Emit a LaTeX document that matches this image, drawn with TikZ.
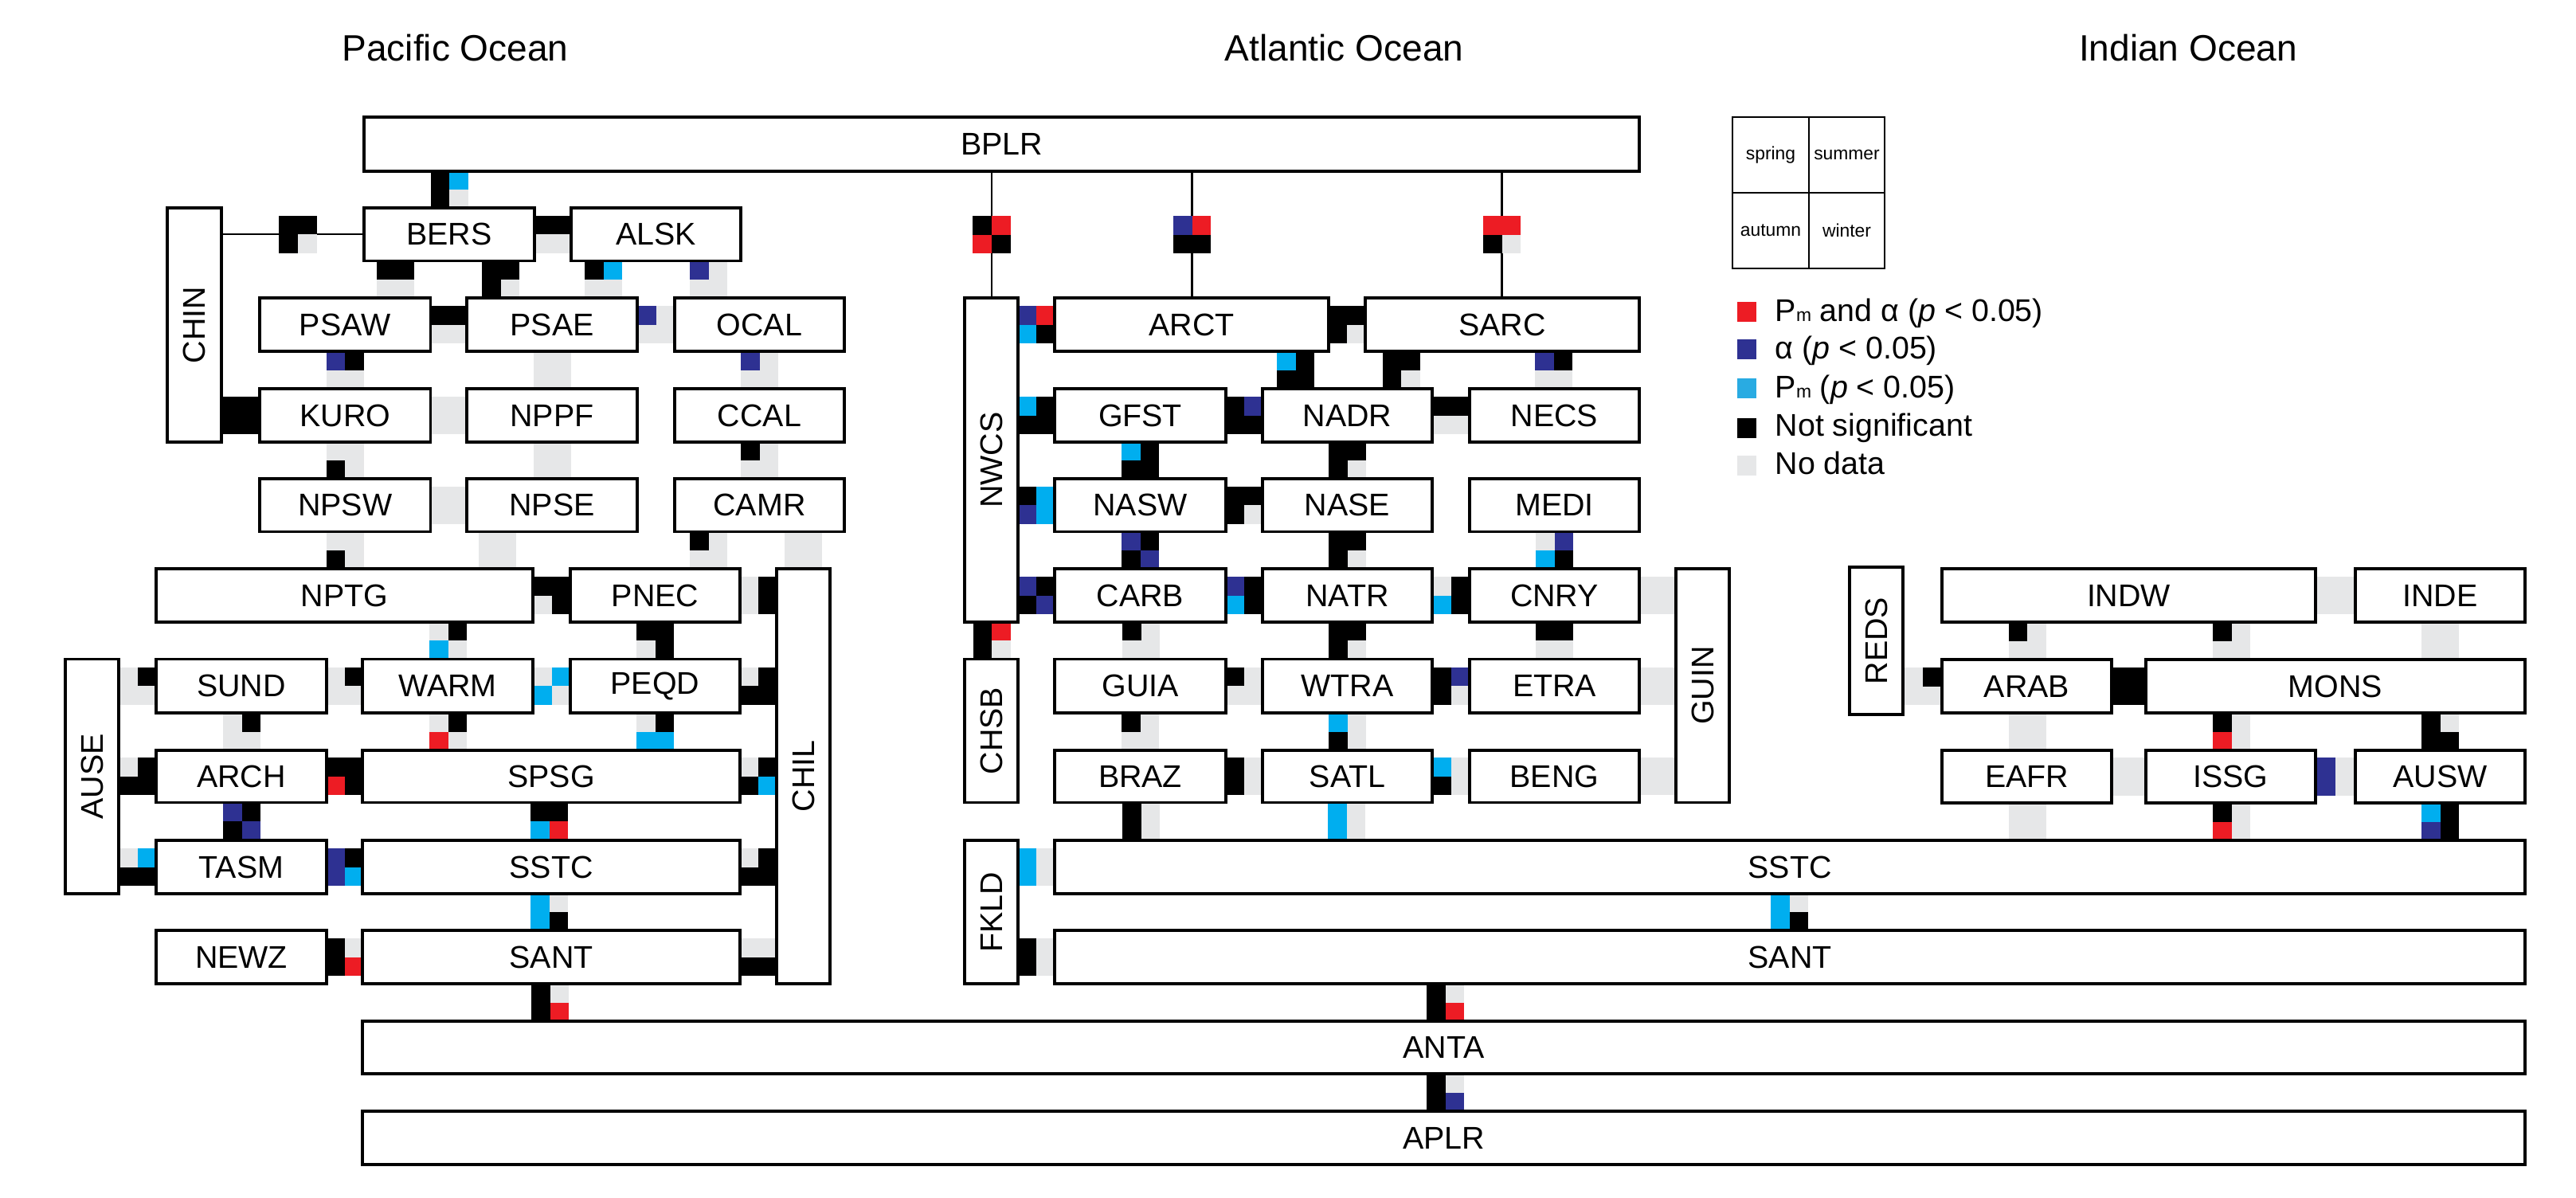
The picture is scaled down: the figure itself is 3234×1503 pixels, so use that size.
\documentclass[tikz,border=0pt]{standalone}
\usepackage{fontspec}
\usepackage{graphicx}
\setmainfont{Liberation Sans}
\usetikzlibrary{calc}
\definecolor{cK}{HTML}{000000}
\definecolor{cG}{HTML}{E6E7E8}
\definecolor{cR}{HTML}{ED1C24}
\definecolor{cN}{HTML}{2E3192}
\definecolor{cC}{HTML}{00AEEF}
\definecolor{cLC}{HTML}{29ABE2}
\def\hw{6.69pt}
\def\hh{6.69pt}
\tikzset{
  box/.style={draw, fill=white, line width=1pt, inner sep=0pt, font=\fontsize{11.2}{13}\selectfont},
  lgbox/.style={draw, fill=white, line width=0.7pt, inner sep=0pt, font=\fontsize{6.5}{8}\selectfont},
  thinline/.style={line width=0.6pt},
  oceantitle/.style={font=\fontsize{13.1}{15}\selectfont, anchor=base, inner sep=0pt},
  legtext/.style={font=\fontsize{11.2}{13}\selectfont, anchor=base west, inner sep=0pt},
  legsq/.style={minimum size=0.24cm, inner sep=0pt}
}
% box: name, x1, y1, x2, y2, label
\newcommand\bx[7][box]{%
  \pgfmathsetlengthmacro\bw{((#5)-(#3))*0.01cm}%
  \pgfmathsetlengthmacro\bh{((#6)-(#4))*0.01cm}%
  \node[#1, minimum width=\bw, minimum height=\bh] (#2) at ({((#3)+(#5))/2},{((#4)+(#6))/2}) {#7};}
\newcommand\qfill[4]{%
  \fill[c#1] (q1) rectangle (q2);
  \fill[c#2] (q2) rectangle (q3 |- q1);
  \fill[c#3] (q1 |- q3) rectangle (q2);
  \fill[c#4] (q2) rectangle (q3);}
% vertical connector: upper node, lower node, left x, spring, summer, autumn, winter
\newcommand\vcon[7]{%
  \path let \p1=(#1.south), \p2=(#2.north), \p3=(#3,0) in
    coordinate (q1) at (\x3,\y1)
    coordinate (q2) at ({\x3+\hw},{(\y1+\y2)/2})
    coordinate (q3) at ({\x3+2*\hw},\y2);
  \qfill{#4}{#5}{#6}{#7}}
% horizontal connector: row node, left node, right node, colours
\newcommand\hcon[7]{%
  \path let \p1=(#2.east), \p2=(#3.west), \p3=(#1.center) in
    coordinate (q1) at (\x1,{\y3+\hh})
    coordinate (q2) at ({(\x1+\x2)/2},\y3)
    coordinate (q3) at (\x2,{\y3-\hh});
  \qfill{#4}{#5}{#6}{#7}}
% lined vertical connector: upper, lower, centre x, colours
\newcommand\lvcon[7]{%
  \path let \p1=(#1.south), \p2=(#2.north), \p3=(#3,0) in
    coordinate (q1) at ({\x3-\hw},{(\y1+\y2)/2+\hh})
    coordinate (q2) at (\x3,{(\y1+\y2)/2})
    coordinate (q3) at ({\x3+\hw},{(\y1+\y2)/2-\hh});
  \draw[thinline] (#1.south -| q2) -- (#2.north -| q2);
  \qfill{#4}{#5}{#6}{#7}}
% lined horizontal connector: left, right, centre x, colours
\newcommand\lhcon[7]{%
  \path let \p2=(#2.center), \p3=(#3,0) in
    coordinate (q1) at ({\x3-\hw},{\y2+\hh})
    coordinate (q2) at (\x3,\y2)
    coordinate (q3) at ({\x3+\hw},{\y2-\hh});
  \draw[thinline] (#1.east |- q2) -- (#2.west |- q2);
  \qfill{#4}{#5}{#6}{#7}}
\begin{document}
\begin{tikzpicture}[x=0.01cm,y=-0.01cm]
\useasboundingbox (0,0) rectangle (3234,1503);
% titles
\node[oceantitle] (tP) at (571.5,77) {Pacific Ocean};
\node[oceantitle] (tA) at (1687.5,77) {Atlantic Ocean};
\node[oceantitle] (tI) at (2747,77) {Indian Ocean};
% boxes
\bx{BPLR}{457}{147}{2058}{215}{BPLR}
\bx{BERS}{457}{261}{671}{327.5}{BERS}
\bx{ALSK}{717}{261}{930}{327.5}{ALSK}
\bx{CHIN}{210}{261}{278}{555}{\rotatebox{90}{CHIN}}
\bx{PSAW}{326}{374}{540.5}{441}{PSAW}
\bx{PSAE}{586}{374}{800}{441}{PSAE}
\bx{OCAL}{847}{374}{1060}{441}{OCAL}
\bx{KURO}{326}{488}{540.5}{555}{KURO}
\bx{NPPF}{586}{488}{800}{555}{NPPF}
\bx{CCAL}{847}{488}{1060}{555}{CCAL}
\bx{NPSW}{326}{601}{540.5}{667.5}{NPSW}
\bx{NPSE}{586}{601}{800}{667.5}{NPSE}
\bx{CAMR}{847}{601}{1060}{667.5}{CAMR}
\bx{NPTG}{196}{714}{669}{781}{NPTG}
\bx{PNEC}{716}{714}{929}{781}{PNEC}
\bx{CHIL}{975}{714}{1042}{1235}{\rotatebox{90}{CHIL}}
\bx{AUSE}{82}{827.5}{149}{1122}{\rotatebox{90}{AUSE}}
\bx{SUND}{196}{827.5}{410}{895}{SUND}
\bx{WARM}{455}{827.5}{669}{895}{WARM}
\bx{PEQD}{716}{827.5}{929}{895}{PEQD}
\bx{ARCH}{196}{942}{410}{1007.5}{ARCH}
\bx{SPSG}{455}{942}{929}{1007.5}{SPSG}
\bx{TASM}{196}{1055}{410}{1122}{TASM}
\bx{SSTCp}{455}{1055}{929}{1122}{SSTC}
\bx{NEWZ}{196}{1168}{410}{1235}{NEWZ}
\bx{SANTp}{455}{1168}{929}{1235}{SANT}
\bx{ANTA}{455}{1282}{3170}{1348}{ANTA}
\bx{APLR}{455}{1395}{3170}{1462}{APLR}
% Atlantic
\bx{NWCS}{1211}{374}{1278}{781}{\rotatebox{90}{NWCS}}
\bx{ARCT}{1324}{374}{1668}{441}{ARCT}
\bx{SARC}{1714}{374}{2058}{441}{SARC}
\bx{GFST}{1324}{488}{1539}{555}{GFST}
\bx{NADR}{1585}{488}{1798}{555}{NADR}
\bx{NECS}{1845}{488}{2058}{555}{NECS}
\bx{NASW}{1324}{601}{1539}{667.5}{NASW}
\bx{NASE}{1585}{601}{1798}{667.5}{NASE}
\bx{MEDI}{1845}{601}{2058}{667.5}{MEDI}
\bx{CARB}{1324}{714}{1539}{781}{CARB}
\bx{NATR}{1585}{714}{1798}{781}{NATR}
\bx{CNRY}{1845}{714}{2058}{781}{CNRY}
\bx{GUIN}{2104}{714}{2171}{1007.5}{\rotatebox{90}{GUIN}}
\bx{CHSB}{1211}{827.5}{1278}{1007.5}{\rotatebox{90}{CHSB}}
\bx{GUIA}{1324}{827.5}{1539}{895}{GUIA}
\bx{WTRA}{1585}{827.5}{1798}{895}{WTRA}
\bx{ETRA}{1845}{827.5}{2058}{895}{ETRA}
\bx{BRAZ}{1324}{942}{1539}{1007.5}{BRAZ}
\bx{SATL}{1585}{942}{1798}{1007.5}{SATL}
\bx{BENG}{1845}{942}{2058}{1007.5}{BENG}
\bx{FKLD}{1211}{1055}{1278}{1235}{\rotatebox{90}{FKLD}}
\bx{SSTCa}{1324}{1055}{3170}{1122}{SSTC}
\bx{SANTa}{1324}{1168}{3170}{1235}{SANT}
% Indian
\bx{REDS}{2322}{712}{2389}{897}{\rotatebox{90}{REDS}}
\bx{INDW}{2438}{714}{2907}{781}{INDW}
\bx{INDE}{2957}{714}{3170}{781}{INDE}
\bx{ARAB}{2438}{828}{2651}{895}{ARAB}
\bx{MONS}{2694}{828}{3170}{895}{MONS}
\bx{EAFR}{2438}{942}{2651}{1008}{EAFR}
\bx{ISSG}{2694}{942}{2907}{1008}{ISSG}
\bx{AUSW}{2957}{942}{3170}{1008}{AUSW}
% legend
\bx[lgbox]{lgSp}{2175}{147}{2271}{242}{spring}
\bx[lgbox]{lgSu}{2271}{147}{2366}{242}{summer}
\bx[lgbox]{lgAu}{2175}{242}{2271}{337}{autumn}
\bx[lgbox]{lgWi}{2271}{242}{2366}{337}{winter}
\node[legsq, fill=cR] (lsR) at (2193,391.5) {};
\node[legsq, fill=cN] (lsN) at (2193,438.5) {};
\node[legsq, fill=cLC] (lsC) at (2193,487.5) {};
\node[legsq, fill=cK] (lsK) at (2193,537.5) {};
\node[legsq, fill=cG] (lsG) at (2193,584.5) {};
\node[legtext] (ltR) at (2228,403) {P{\fontsize{6.5}{7}\selectfont m} and α (\textit{p} < 0.05)};
\node[legtext] (ltN) at (2228,450) {α (\textit{p} < 0.05)};
\node[legtext] (ltC) at (2228,499) {P{\fontsize{6.5}{7}\selectfont m} (\textit{p} < 0.05)};
\node[legtext] (ltK) at (2228,547) {Not significant};
\node[legtext] (ltG) at (2228,595) {No data};
% ---- Pacific vertical connectors
\vcon{BPLR}{BERS}{540.5}{K}{C}{K}{G}
\vcon{BERS}{PSAW}{473}{K}{K}{G}{G}
\vcon{BERS}{PSAE}{605}{K}{K}{K}{G}
\vcon{ALSK}{PSAE}{734}{K}{C}{G}{G}
\vcon{ALSK}{OCAL}{866}{N}{G}{G}{G}
\vcon{PSAW}{KURO}{409.6}{N}{K}{G}{G}
\vcon{PSAE}{NPPF}{670}{G}{G}{G}{G}
\vcon{OCAL}{CCAL}{930}{N}{G}{G}{G}
\vcon{KURO}{NPSW}{409.6}{G}{G}{K}{G}
\vcon{NPPF}{NPSE}{670}{G}{G}{G}{G}
\vcon{CCAL}{CAMR}{930}{K}{G}{G}{G}
\vcon{NPSW}{NPTG}{409.6}{G}{G}{K}{G}
\vcon{NPSE}{NPTG}{601}{G}{G}{G}{G}
\vcon{CAMR}{PNEC}{866}{K}{G}{G}{G}
\vcon{CAMR}{CHIL}{985}{G}{G}{G}{G}
\vcon{NPTG}{WARM}{539}{G}{K}{C}{G}
\vcon{PNEC}{PEQD}{799}{K}{K}{G}{K}
\vcon{SUND}{ARCH}{280}{G}{K}{G}{G}
\vcon{WARM}{SPSG}{539}{G}{K}{R}{G}
\vcon{PEQD}{SPSG}{799}{G}{K}{C}{C}
\vcon{ARCH}{TASM}{280}{N}{K}{K}{N}
\vcon{SPSG}{SSTCp}{666}{K}{K}{C}{R}
\vcon{SSTCp}{SANTp}{666}{C}{G}{C}{K}
\vcon{SANTp}{ANTA}{667}{K}{G}{K}{R}
% ---- Pacific horizontal connectors
\lhcon{CHIN}{BERS}{374}{K}{K}{K}{G}
\hcon{BERS}{BERS}{ALSK}{K}{K}{G}{G}
\hcon{PSAW}{PSAW}{PSAE}{K}{K}{G}{G}
\hcon{PSAE}{PSAE}{OCAL}{N}{G}{G}{G}
\hcon{KURO}{CHIN}{KURO}{K}{K}{K}{K}
\hcon{KURO}{KURO}{NPPF}{G}{G}{G}{G}
\hcon{NPSW}{NPSW}{NPSE}{G}{G}{G}{G}
\hcon{NPTG}{NPTG}{PNEC}{K}{K}{G}{K}
\hcon{PNEC}{PNEC}{CHIL}{G}{K}{G}{K}
\hcon{SUND}{AUSE}{SUND}{G}{K}{G}{G}
\hcon{SUND}{SUND}{WARM}{G}{K}{G}{G}
\hcon{WARM}{WARM}{PEQD}{G}{C}{C}{G}
\hcon{PEQD}{PEQD}{CHIL}{G}{K}{K}{K}
\hcon{ARCH}{AUSE}{ARCH}{G}{K}{K}{K}
\hcon{ARCH}{ARCH}{SPSG}{K}{K}{R}{K}
\hcon{SPSG}{SPSG}{CHIL}{G}{K}{K}{C}
\hcon{TASM}{AUSE}{TASM}{G}{C}{K}{K}
\hcon{TASM}{TASM}{SSTCp}{N}{K}{N}{C}
\hcon{SSTCp}{SSTCp}{CHIL}{G}{K}{K}{K}
\hcon{NEWZ}{NEWZ}{SANTp}{K}{G}{K}{R}
\hcon{SANTp}{SANTp}{CHIL}{G}{G}{K}{K}
% ---- Atlantic vertical connectors
\lvcon{BPLR}{NWCS}{1245}{K}{R}{R}{K}
\lvcon{BPLR}{ARCT}{1496.5}{N}{R}{K}{K}
\lvcon{BPLR}{SARC}{1885.5}{R}{R}{K}{G}
\vcon{ARCT}{NADR}{1603}{C}{K}{K}{K}
\vcon{SARC}{NADR}{1735.6}{K}{K}{K}{G}
\vcon{SARC}{NECS}{1927}{N}{K}{G}{G}
\vcon{GFST}{NASW}{1408}{C}{K}{K}{K}
\vcon{NADR}{NASE}{1668}{K}{K}{K}{G}
\vcon{NASW}{CARB}{1408}{N}{K}{K}{N}
\vcon{NASE}{NATR}{1668}{K}{K}{K}{G}
\vcon{MEDI}{CNRY}{1928}{G}{N}{C}{K}
\vcon{NWCS}{CHSB}{1221.5}{K}{R}{K}{G}
\vcon{CARB}{GUIA}{1409}{K}{G}{G}{G}
\vcon{NATR}{WTRA}{1668}{K}{K}{K}{G}
\vcon{CNRY}{ETRA}{1928}{K}{K}{G}{G}
\vcon{GUIA}{BRAZ}{1408}{K}{G}{G}{G}
\vcon{WTRA}{SATL}{1668}{C}{G}{K}{G}
\vcon{BRAZ}{SSTCa}{1409}{K}{G}{K}{G}
\vcon{SATL}{SSTCa}{1667}{C}{G}{C}{G}
\vcon{SSTCa}{SANTa}{2223}{C}{G}{C}{K}
\vcon{SANTa}{ANTA}{1791}{K}{G}{K}{R}
\vcon{ANTA}{APLR}{1791}{K}{G}{K}{N}
% ---- Atlantic horizontal connectors
\hcon{ARCT}{NWCS}{ARCT}{N}{R}{C}{K}
\hcon{ARCT}{ARCT}{SARC}{K}{K}{K}{G}
\hcon{GFST}{NWCS}{GFST}{C}{K}{K}{K}
\hcon{GFST}{GFST}{NADR}{K}{N}{K}{K}
\hcon{NADR}{NADR}{NECS}{K}{K}{G}{G}
\hcon{NASW}{NWCS}{NASW}{K}{C}{N}{C}
\hcon{NASW}{NASW}{NASE}{K}{K}{K}{G}
\hcon{CARB}{NWCS}{CARB}{N}{K}{K}{N}
\hcon{CARB}{CARB}{NATR}{N}{K}{C}{K}
\hcon{NATR}{NATR}{CNRY}{G}{K}{C}{K}
\hcon{CNRY}{CNRY}{GUIN}{G}{G}{G}{G}
\hcon{GUIA}{GUIA}{WTRA}{K}{G}{G}{G}
\hcon{WTRA}{WTRA}{ETRA}{K}{N}{K}{G}
\hcon{ETRA}{ETRA}{GUIN}{G}{G}{G}{G}
\hcon{BRAZ}{BRAZ}{SATL}{K}{G}{K}{G}
\hcon{SATL}{SATL}{BENG}{C}{G}{K}{G}
\hcon{BENG}{BENG}{GUIN}{G}{G}{G}{G}
\hcon{SSTCa}{FKLD}{SSTCa}{C}{G}{C}{G}
\hcon{SANTa}{FKLD}{SANTa}{K}{G}{K}{G}
% ---- Indian connectors
\vcon{INDW}{ARAB}{2521.5}{K}{G}{G}{G}
\vcon{INDW}{MONS}{2778}{K}{G}{G}{G}
\vcon{INDE}{MONS}{3040}{G}{G}{G}{G}
\vcon{ARAB}{EAFR}{2521.5}{G}{G}{G}{G}
\vcon{MONS}{ISSG}{2778}{K}{G}{R}{G}
\vcon{MONS}{AUSW}{3040}{K}{G}{K}{K}
\vcon{EAFR}{SSTCa}{2521.5}{G}{G}{G}{G}
\vcon{ISSG}{SSTCa}{2778}{K}{G}{R}{G}
\vcon{AUSW}{SSTCa}{3040}{C}{K}{N}{K}
\hcon{INDW}{INDW}{INDE}{G}{G}{G}{G}
\hcon{ARAB}{REDS}{ARAB}{G}{K}{G}{G}
\hcon{ARAB}{ARAB}{MONS}{K}{K}{K}{K}
\hcon{EAFR}{EAFR}{ISSG}{G}{G}{G}{G}
\hcon{ISSG}{ISSG}{AUSW}{N}{G}{N}{G}
\end{tikzpicture}
\end{document}
